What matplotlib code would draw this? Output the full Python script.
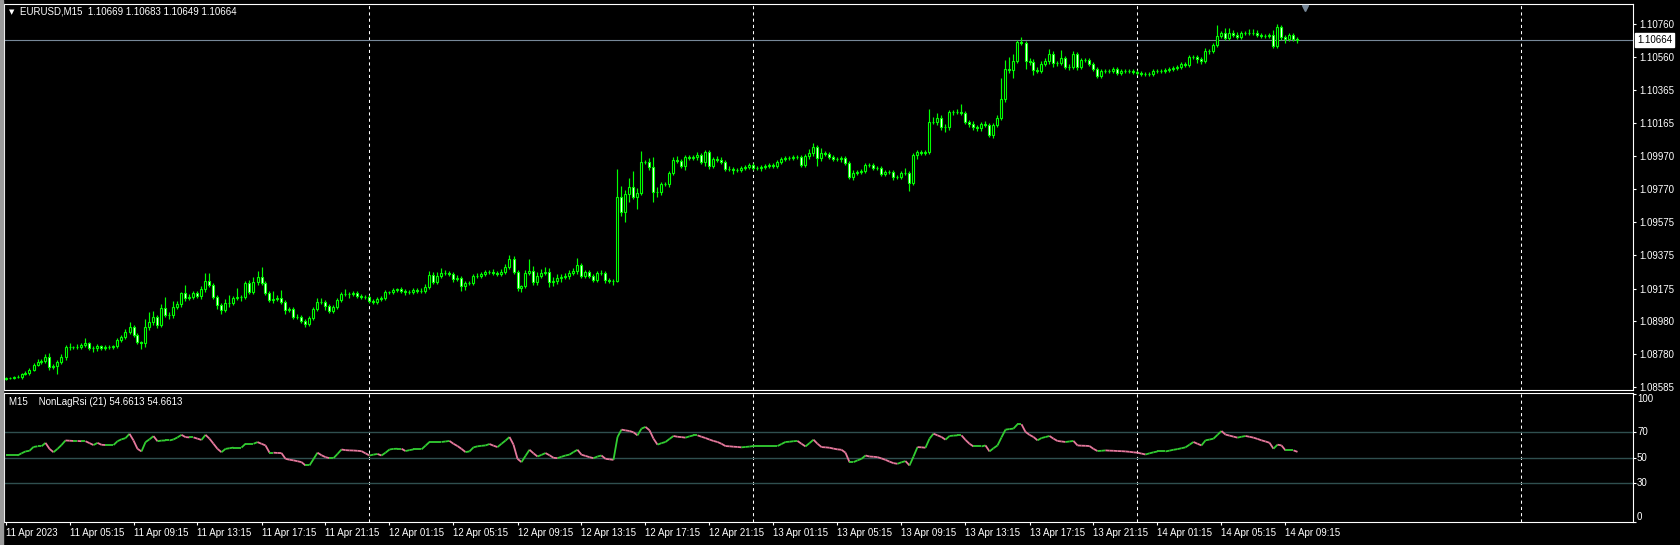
import numpy as np
import pandas as pd
import matplotlib
matplotlib.use('Agg')
import matplotlib.pyplot as plt
import matplotlib.transforms as mtransforms
from matplotlib.collections import LineCollection
from matplotlib.patches import Rectangle

plt.rcParams['font.family'] = ['Liberation Sans', 'DejaVu Sans']

# -------------------------- DATA --------------------------
symbol = 'EURUSD,M15'
start_time = '2023-04-11 01:15'
base_price = 1.08000
first_open_pts = 630

# close prices in points (1e-5) above 1.08000, one per M15 bar
close_pts = [
    636, 636, 642, 642, 660, 666, 684, 714, 732, 738,
    762, 702, 708, 732, 762, 822, 822, 822, 822, 834,
    846, 816, 816, 828, 816, 822, 822, 828, 864, 882,
    912, 942, 894, 852, 846, 942, 972, 1002, 954, 1056,
    1014, 1014, 1062, 1080, 1146, 1116, 1122, 1146, 1128, 1170,
    1218, 1194, 1122, 1074, 1044, 1086, 1086, 1116, 1122, 1122,
    1206, 1152, 1212, 1242, 1206, 1146, 1104, 1110, 1116, 1092,
    1044, 1050, 1002, 1002, 978, 960, 996, 1050, 1092, 1092,
    1068, 1038, 1062, 1104, 1140, 1140, 1140, 1146, 1128, 1122,
    1122, 1098, 1092, 1110, 1116, 1152, 1152, 1164, 1170, 1158,
    1152, 1152, 1164, 1158, 1158, 1182, 1254, 1212, 1248, 1266,
    1266, 1260, 1230, 1236, 1188, 1206, 1206, 1248, 1248, 1260,
    1272, 1272, 1266, 1260, 1272, 1302, 1350, 1272, 1176, 1188,
    1266, 1278, 1212, 1248, 1266, 1272, 1212, 1218, 1236, 1242,
    1248, 1266, 1278, 1314, 1248, 1272, 1248, 1224, 1266, 1266,
    1224, 1218, 1218, 1722, 1632, 1740, 1782, 1722, 1746, 1932,
    1932, 1902, 1752, 1752, 1800, 1800, 1866, 1944, 1938, 1908,
    1962, 1956, 1962, 1974, 1932, 1992, 1908, 1950, 1944, 1932,
    1890, 1890, 1884, 1884, 1896, 1902, 1914, 1896, 1896, 1902,
    1908, 1914, 1908, 1932, 1950, 1956, 1956, 1962, 1962, 1914,
    1968, 1986, 2022, 1956, 1986, 1980, 1962, 1950, 1950, 1956,
    1926, 1842, 1866, 1872, 1878, 1914, 1914, 1896, 1896, 1860,
    1872, 1872, 1842, 1842, 1866, 1866, 1806, 1974, 1992, 1986,
    1992, 2172, 2172, 2196, 2142, 2142, 2232, 2232, 2232, 2226,
    2172, 2160, 2142, 2136, 2160, 2154, 2094, 2154, 2196, 2310,
    2490, 2484, 2538, 2652, 2646, 2538, 2532, 2484, 2478, 2520,
    2538, 2580, 2526, 2526, 2556, 2502, 2502, 2580, 2502, 2544,
    2544, 2520, 2490, 2448, 2478, 2478, 2478, 2490, 2466, 2478,
    2478, 2478, 2472, 2466, 2460, 2460, 2460, 2478, 2478, 2478,
    2484, 2490, 2496, 2502, 2520, 2514, 2562, 2562, 2550, 2538,
    2598, 2598, 2634, 2688, 2706, 2676, 2706, 2694, 2682, 2706,
    2706, 2706, 2706, 2694, 2688, 2688, 2694, 2628, 2742, 2682,
    2670, 2694, 2669, 2664,
]

# upper / lower shadow lengths in points
wick_up_pts = [
    6, 6, 6, 12, 6, 12, 12, 12, 18, 12, 18, 24, 12, 12, 18, 12, 24, 6, 18, 12,
    30, 6, 12, 12, 6, 12, 12, 6, 12, 12, 18, 30, 12, 12, 6, 48, 60, 36, 12, 24,
    66, 18, 36, 18, 6, 48, 18, 12, 12, 18, 48, 48, 12, 12, 12, 24, 48, 12, 54, 12,
    12, 18, 30, 36, 60, 12, 12, 48, 18, 48, 12, 12, 12, 18, 12, 12, 12, 12, 24, 24,
    12, 12, 12, 12, 12, 30, 12, 12, 12, 12, 12, 12, 12, 12, 12, 12, 6, 12, 6, 12,
    12, 12, 12, 12, 18, 18, 24, 18, 24, 30, 18, 12, 12, 18, 12, 12, 12, 12, 18, 12,
    12, 12, 18, 12, 18, 18, 24, 18, 12, 6, 18, 72, 30, 24, 24, 30, 24, 24, 24, 18,
    18, 18, 18, 42, 12, 12, 12, 12, 12, 18, 12, 12, 12, 168, 66, 24, 54, 96, 30, 66,
    12, 24, 60, 30, 12, 12, 12, 18, 24, 12, 12, 12, 12, 18, 12, 12, 12, 12, 18, 18,
    12, 18, 12, 12, 12, 12, 12, 12, 12, 12, 12, 12, 12, 12, 12, 12, 12, 12, 12, 12,
    12, 24, 24, 12, 30, 12, 12, 12, 12, 12, 12, 12, 18, 12, 12, 12, 12, 12, 12, 12,
    12, 12, 12, 12, 12, 30, 12, 12, 12, 12, 12, 78, 30, 30, 18, 18, 12, 12, 18, 48,
    12, 12, 18, 12, 12, 18, 12, 12, 18, 126, 54, 72, 42, 12, 30, 12, 18, 18, 18, 18,
    18, 30, 18, 12, 48, 12, 18, 18, 12, 12, 12, 12, 12, 12, 12, 12, 12, 12, 12, 12,
    12, 12, 12, 12, 12, 12, 12, 12, 12, 12, 12, 12, 12, 12, 12, 12, 12, 12, 12, 12,
    18, 12, 12, 66, 12, 30, 30, 18, 18, 12, 12, 24, 24, 18, 12, 12, 12, 30, 18, 12,
    12, 12, 12, 14,
]
wick_dn_pts = [
    6, 6, 6, 6, 12, 6, 12, 6, 6, 12, 12, 18, 12, 48, 12, 18, 18, 12, 12, 12,
    12, 12, 24, 18, 12, 12, 12, 12, 12, 12, 12, 12, 12, 12, 36, 24, 18, 18, 18, 12,
    12, 24, 18, 12, 18, 18, 12, 12, 12, 18, 18, 12, 12, 24, 24, 12, 24, 12, 12, 24,
    12, 12, 12, 18, 12, 12, 12, 18, 12, 12, 24, 12, 12, 12, 12, 18, 12, 12, 12, 12,
    24, 12, 12, 12, 12, 12, 24, 12, 12, 12, 12, 12, 12, 12, 12, 12, 12, 12, 12, 12,
    18, 12, 12, 12, 12, 12, 12, 12, 12, 12, 12, 12, 18, 12, 30, 24, 12, 12, 12, 12,
    12, 12, 12, 12, 12, 12, 12, 12, 18, 24, 12, 12, 18, 18, 12, 12, 30, 24, 18, 24,
    12, 18, 12, 18, 12, 12, 12, 12, 12, 12, 18, 12, 24, 6, 24, 60, 48, 12, 72, 12,
    12, 18, 60, 30, 18, 12, 18, 12, 12, 12, 24, 12, 12, 18, 12, 24, 18, 12, 12, 12,
    12, 12, 24, 12, 12, 12, 12, 12, 12, 18, 12, 12, 12, 12, 12, 12, 12, 12, 12, 12,
    12, 18, 18, 48, 18, 12, 12, 12, 12, 18, 12, 12, 18, 12, 12, 12, 12, 12, 12, 12,
    12, 12, 18, 12, 12, 12, 48, 12, 24, 12, 12, 12, 12, 18, 18, 30, 18, 18, 12, 12,
    12, 18, 18, 18, 18, 12, 12, 18, 12, 12, 18, 18, 48, 12, 12, 48, 18, 30, 12, 12,
    12, 18, 24, 18, 12, 12, 18, 12, 18, 12, 12, 12, 12, 12, 12, 12, 12, 12, 12, 12,
    12, 12, 12, 12, 12, 12, 12, 12, 12, 12, 12, 12, 12, 12, 12, 12, 12, 12, 24, 18,
    12, 18, 12, 12, 12, 12, 12, 12, 12, 12, 12, 12, 12, 12, 12, 12, 12, 12, 12, 18,
    24, 12, 12, 15,
]

# NonLagRsi(21) value per bar
rsi = [
    51.8, 51.8, 51.8, 51.8, 53.5, 55, 55.5, 58.5, 59, 59,
    61.7, 57, 54.4, 57, 60, 63.6, 63.4, 63.2, 63.2, 63,
    63, 61.5, 60, 61.7, 60.2, 60, 60, 60, 63, 64.5,
    65.4, 68.8, 63.6, 57, 55, 62.3, 64.5, 67, 63, 63.5,
    63.6, 63.6, 64.4, 66, 68, 66.2, 66, 66, 65, 64,
    68, 65, 61, 57, 54.4, 57, 57.5, 58, 58, 58,
    61, 61, 61, 62.3, 61, 59.7, 54, 54, 53.8, 53.7,
    49.2, 48.5, 48, 47.3, 46.6, 44, 44, 49, 54, 52,
    50.5, 49.7, 49.7, 53, 56.5, 56, 55.8, 55.7, 55.5, 55.2,
    53.5, 51.8, 52.5, 53, 51.8, 54, 56.5, 57, 57.1, 57.1,
    55.3, 56, 56.6, 56.6, 56.6, 59.5, 62.4, 62.4, 62.4, 62.4,
    62.8, 63.2, 61, 59.2, 57, 54.5, 55, 58.2, 59, 59.4,
    59.7, 60.8, 59.5, 58.4, 61, 63.5, 66.3, 60.3, 49.2, 46.6,
    51.5, 56.3, 53.5, 51, 52.3, 53.7, 52, 50, 49.7, 50.8,
    51.8, 52.5, 54.5, 56.3, 52.4, 51.5, 50.5, 49.7, 51, 51.8,
    49.2, 48.8, 48.4, 66.3, 72.1, 71.5, 71, 70, 67.6, 72.9,
    74.2, 71.6, 65, 60.3, 61.5, 62.4, 64.8, 67.1, 66.5, 66.2,
    65.8, 66.8, 67.6, 67.6, 66.5, 65.5, 64.3, 63.2, 62.4, 61,
    59.2, 59, 58.7, 58.5, 58.2, 58.5, 58.8, 59.2, 59.2, 59.2,
    59.2, 59.2, 59.2, 59.2, 60.8, 62.4, 62.6, 63, 63.2, 61,
    58.9, 61.5, 64.2, 61, 58.4, 58.2, 57.9, 57.2, 56.6, 56.3,
    54, 46.6, 46.6, 48, 49.2, 51.8, 51, 50.8, 50.5, 49.5,
    48.4, 47, 45.8, 45.3, 46.5, 47.4, 44, 51, 58.4, 58.2,
    57.9, 65, 68.9, 67.6, 66.3, 64.2, 67.1, 67.4, 67.6, 67.6,
    64, 61, 58.9, 58.9, 58.9, 59.7, 55, 57.5, 59.7, 66,
    72.1, 72.5, 72.9, 76.3, 76.3, 70.3, 68, 66.3, 63.7, 65.5,
    66.3, 67.1, 65, 63.2, 62.8, 62.4, 62.8, 63.2, 59.7, 59.5,
    59.4, 59.2, 57, 55.3, 55.5, 55.8, 55.6, 55.5, 55.3, 55.2,
    55, 54.7, 54.3, 54, 53.3, 52.6, 53.5, 54.3, 55, 55,
    55, 55.6, 56.3, 56.8, 57.5, 58.2, 60.3, 62.4, 61, 59.7,
    63.7, 64.3, 65, 68, 71, 68.2, 67.4, 66.6, 65.8, 66.5,
    67.1, 66.5, 65.8, 64.8, 63.7, 62.8, 61.8, 57.1, 60.3, 59.7,
    55.8, 55.8, 55.8, 54.6613,
]

price_ticks = [1.10760, 1.10560, 1.10365, 1.10165, 1.09970, 1.09770,
               1.09575, 1.09375, 1.09175, 1.08980, 1.08780, 1.08585]
price_range = (1.08567, 1.10880)
rsi_levels = [70, 50, 30]
rsi_ticks = [100, 70, 50, 30, 0]
rsi_range = (-0.35, 101.2)

# -------------------------- PREPARE OHLC --------------------------
n = len(close_pts)
close = base_price + np.array(close_pts) / 1e5
open_ = np.r_[base_price + first_open_pts / 1e5, close[:-1]]
high = np.maximum(open_, close) + np.array(wick_up_pts) / 1e5
low = np.minimum(open_, close) - np.array(wick_dn_pts) / 1e5
xs = np.arange(n)
times = pd.date_range(start_time, periods=n + 90, freq='15min')

# -------------------------- FIGURE LAYOUT (pixel based) --------------------------
W, H = 1680, 545
FS = 7
fig = plt.figure(figsize=(W / 100, H / 100), dpi=100, facecolor='black')


def fx(px):
    return px / W


def fy(py):
    return 1 - py / H


# thin window frame on the left edge
fig.patches.append(Rectangle((0, 0), fx(3), 1, transform=fig.transFigure,
                             color='#9a9a9a', zorder=0))

ax = fig.add_axes([fx(4), fy(390), fx(1633) - fx(4), fy(4) - fy(390)])
ax2 = fig.add_axes([fx(4), fy(522), fx(1633) - fx(4), fy(392.5) - fy(522)])
xlim = (-0.375, 406.875)   # 4 px per bar

GREEN = '#00ff00'
for a in (ax, ax2):
    a.set_facecolor('black')
    a.set_xlim(*xlim)
    for s in a.spines.values():
        s.set_color('white')
        s.set_linewidth(0.8)

# day separators
day_idx = [i for i in range(1, len(times)) if times[i].date() != times[i - 1].date()]
for a in (ax, ax2):
    for d in day_idx:
        a.axvline(d, color='white', lw=0.75, ls=(0, (3, 3)), zorder=1)

# -------------------------- CANDLES --------------------------
up = close >= open_
ax.vlines(xs, low, high, color=GREEN, lw=0.85, zorder=2)
ax.bar(xs, np.abs(close - open_), bottom=np.minimum(open_, close), width=0.5,
       color=np.where(up, 'black', 'white'), edgecolor=GREEN, linewidth=0.8, zorder=3)

ax.axhline(close[-1], color='#778899', lw=0.8, zorder=1)
ax.set_ylim(*price_range)
ax.yaxis.tick_right()
ax.set_yticks(price_ticks)
ax.set_yticklabels([f'{t:.5f}' for t in price_ticks])
ax.tick_params(axis='y', colors='white', labelsize=FS, length=2.5, width=0.8, pad=2)
ax.tick_params(axis='x', bottom=False, labelbottom=False)

# current price tag
tag_tr = mtransforms.blended_transform_factory(ax.transAxes, ax.transData) + \
    mtransforms.ScaledTranslation(4 / 100, 0, fig.dpi_scale_trans)
ax.text(1.0, close[-1], f'{close[-1]:.5f}', transform=tag_tr, ha='left', va='center',
        fontsize=FS, color='black',
        bbox=dict(boxstyle='square,pad=0.22', fc='white', ec='white'))

# chart shift marker
shift_tr = mtransforms.blended_transform_factory(ax.transData, ax.transAxes)
ax.plot([n + 1], [0.99], transform=shift_tr, marker='v', ms=5, color='#778899',
        clip_on=False, zorder=5)

# header
fig.text(fx(9), fy(12), '▼', color='white', fontsize=5, va='center',
         family=['DejaVu Sans'])
fig.text(fx(20), fy(12),
         f'{symbol}  {open_[-1]:.5f} {high[-1]:.5f} {low[-1]:.5f} {close[-1]:.5f}',
         color='white', fontsize=FS, va='center')

# -------------------------- NONLAG RSI PANEL --------------------------
for lv in rsi_levels:
    ax2.axhline(lv, color='#2F4F4F', lw=1.0, zorder=1)

rv = np.array(rsi)
segs = np.stack([np.column_stack([xs[:-1], rv[:-1]]),
                 np.column_stack([xs[1:], rv[1:]])], axis=1)
seg_colors = np.where(np.diff(rv) >= 0, '#32CD32', '#E5789C')
ax2.add_collection(LineCollection(segs, colors=seg_colors, linewidths=1.3, zorder=3))
ax2.set_ylim(*rsi_range)
ax2.yaxis.tick_right()
ax2.set_yticks(rsi_ticks)
ax2.set_yticklabels([])
ax2.tick_params(axis='y', colors='white', length=2, width=0.8)

lab_tr = mtransforms.blended_transform_factory(ax2.transAxes, ax2.transData) + \
    mtransforms.ScaledTranslation(4 / 100, 0, fig.dpi_scale_trans)
for v in rsi_ticks:
    va = 'top' if v == max(rsi_ticks) else ('bottom' if v == min(rsi_ticks) else 'center')
    ax2.text(1.0, v, f'{v}', transform=lab_tr, ha='left', va=va,
             fontsize=FS, color='white')

fig.text(fx(9), fy(402), f'M15    NonLagRsi (21) {rsi[-1]:.4f} {rsi[-1]:.4f}',
         color='white', fontsize=FS, va='center')

# time axis
tick_pos = list(range(0, n, 16))
tick_lab = [times[i].strftime('%d %b %Y') if i == 0 else times[i].strftime('%d %b %H:%M')
            for i in tick_pos]
ax2.set_xticks(tick_pos)
ax2.set_xticklabels(tick_lab, ha='left')
ax2.tick_params(axis='x', colors='white', labelsize=FS, length=2.5, width=0.8, pad=2)

fig.savefig('out.png', dpi=100, facecolor='black')
